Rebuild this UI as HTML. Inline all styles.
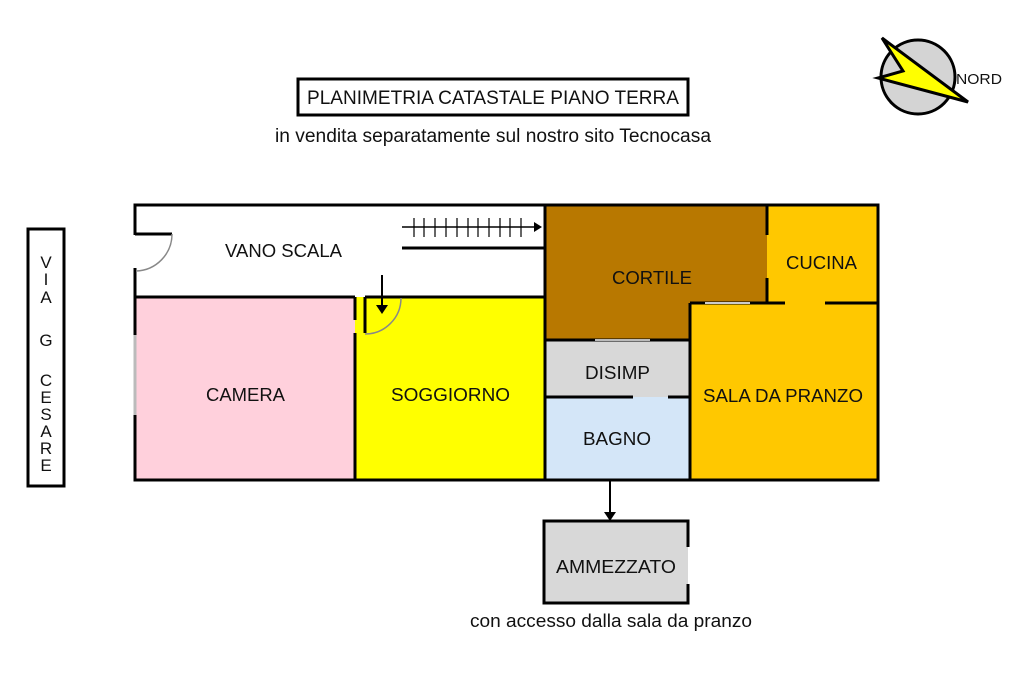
<!DOCTYPE html>
<html><head><meta charset="utf-8"><style>
html,body{margin:0;padding:0;background:#fff;}
svg{display:block}
text{font-family:"Liberation Sans",Arial,sans-serif;fill:#111}
</style></head><body>
<svg width="1024" height="682" viewBox="0 0 1024 682" xmlns="http://www.w3.org/2000/svg">
<!-- Title -->
<rect x="298" y="79" width="390" height="36" fill="#fff" stroke="#000" stroke-width="3"/>
<text x="493" y="104" font-size="19" text-anchor="middle" textLength="372" lengthAdjust="spacingAndGlyphs">PLANIMETRIA CATASTALE PIANO TERRA</text>
<text x="493" y="142" font-size="19" text-anchor="middle" textLength="436" lengthAdjust="spacingAndGlyphs">in vendita separatamente sul nostro sito Tecnocasa</text>

<!-- Compass -->
<circle cx="918" cy="77" r="37" fill="#d4d4d4" stroke="#000" stroke-width="3"/>
<polygon points="882,38 968,102 878,78 903,71" fill="#ffff00" stroke="#000" stroke-width="3" stroke-linejoin="miter"/>
<text x="956" y="84" font-size="15" fill="#222" textLength="46" lengthAdjust="spacingAndGlyphs">NORD</text>

<!-- Via G Cesare -->
<rect x="28" y="229" width="36" height="257" fill="#fff" stroke="#000" stroke-width="3"/>
<g font-size="17" text-anchor="middle">
<text x="46" y="268">V</text><text x="46" y="285">I</text><text x="46" y="303">A</text>
<text x="46" y="346">G</text>
<text x="46" y="386">C</text><text x="46" y="403">E</text><text x="46" y="420">S</text><text x="46" y="437">A</text><text x="46" y="454">R</text><text x="46" y="471">E</text>
</g>

<!-- Rooms fills -->
<rect x="135" y="205" width="410" height="92" fill="#fff"/>
<rect x="135" y="297" width="220" height="183" fill="#ffd0dc"/>
<rect x="355" y="297" width="190" height="183" fill="#ffff00"/>
<polygon points="545,205 767,205 767,303 690,303 690,340 545,340" fill="#b87800"/>
<rect x="767" y="205" width="111" height="98" fill="#ffc800"/>
<rect x="690" y="303" width="188" height="177" fill="#ffc800"/>
<rect x="545" y="340" width="145" height="57" fill="#d8d8d8"/>
<rect x="545" y="397" width="145" height="83" fill="#d4e6f8"/>

<!-- walls -->
<g stroke="#000" stroke-width="3" fill="none">
<rect x="135" y="205" width="743" height="275"/>
<line x1="135" y1="297" x2="355" y2="297"/>
<line x1="365" y1="297" x2="545" y2="297"/>
<line x1="355" y1="297" x2="355" y2="320"/>
<line x1="365" y1="297" x2="365" y2="333"/>
<line x1="355" y1="333" x2="355" y2="480"/>
<line x1="545" y1="205" x2="545" y2="480"/>
<line x1="767" y1="205" x2="767" y2="235"/>
<line x1="767" y1="278" x2="767" y2="303"/>
<line x1="690" y1="303" x2="785" y2="303"/>
<line x1="825" y1="303" x2="878" y2="303"/>
<line x1="690" y1="303" x2="690" y2="480"/>
<line x1="545" y1="340" x2="690" y2="340"/>
<line x1="545" y1="397" x2="633" y2="397"/>
<line x1="668" y1="397" x2="690" y2="397"/>
<line x1="402" y1="248" x2="545" y2="248"/>
</g>
<rect x="132" y="235" width="6" height="33" fill="#fff"/>
<line x1="135" y1="234" x2="172" y2="234" stroke="#000" stroke-width="3"/>
<path d="M172,234 A37,37 0 0 1 136,271" stroke="#888" stroke-width="1.5" fill="none"/>
<path d="M401,298 A36,36 0 0 1 365,334" stroke="#888" stroke-width="1.5" fill="none"/>
<line x1="135" y1="335" x2="135" y2="415" stroke="#bbb" stroke-width="3"/>
<line x1="595" y1="340" x2="650" y2="340" stroke="#bbb" stroke-width="2"/>
<line x1="705" y1="303" x2="750" y2="303" stroke="#ccc" stroke-width="2"/>
<!-- stairs -->
<line x1="402" y1="227" x2="536" y2="227" stroke="#000" stroke-width="1.5"/>
<polygon points="542,227 534,222 534,232" fill="#000"/>
<g stroke="#000" stroke-width="1.2">
<line x1="414" y1="218" x2="414" y2="237"/><line x1="424" y1="218" x2="424" y2="237"/><line x1="435" y1="218" x2="435" y2="237"/><line x1="446" y1="218" x2="446" y2="237"/><line x1="457" y1="218" x2="457" y2="237"/><line x1="468" y1="218" x2="468" y2="237"/><line x1="478" y1="218" x2="478" y2="237"/><line x1="489" y1="218" x2="489" y2="237"/><line x1="500" y1="218" x2="500" y2="237"/><line x1="510" y1="218" x2="510" y2="237"/><line x1="521" y1="218" x2="521" y2="237"/>
</g>
<line x1="382" y1="275" x2="382" y2="308" stroke="#000" stroke-width="2"/>
<polygon points="382,314 376,305 388,305" fill="#000"/>

<!-- labels -->
<g font-size="18" lengthAdjust="spacingAndGlyphs">
<text x="225" y="257" textLength="117" lengthAdjust="spacingAndGlyphs">VANO SCALA</text>
<text x="206" y="401" textLength="79" lengthAdjust="spacingAndGlyphs">CAMERA</text>
<text x="391" y="401" textLength="119" lengthAdjust="spacingAndGlyphs">SOGGIORNO</text>
<text x="612" y="284" textLength="80" lengthAdjust="spacingAndGlyphs">CORTILE</text>
<text x="786" y="269" textLength="71" lengthAdjust="spacingAndGlyphs">CUCINA</text>
<text x="585" y="379" textLength="65" lengthAdjust="spacingAndGlyphs">DISIMP</text>
<text x="583" y="445" textLength="68" lengthAdjust="spacingAndGlyphs">BAGNO</text>
<text x="703" y="402" textLength="160" lengthAdjust="spacingAndGlyphs">SALA DA PRANZO</text>
</g>

<!-- ammezzato -->
<line x1="610" y1="480" x2="610" y2="514" stroke="#000" stroke-width="2"/>
<polygon points="610,521 604,512 616,512" fill="#000"/>
<rect x="544" y="521" width="144" height="82" fill="#d8d8d8"/>
<g stroke="#000" stroke-width="3" fill="none">
<polyline points="688,547 688,521 544,521 544,603 688,603 688,584"/>
</g>
<text x="556" y="573" font-size="18" textLength="120" lengthAdjust="spacingAndGlyphs">AMMEZZATO</text>
<text x="611" y="627" font-size="18" text-anchor="middle" textLength="282" lengthAdjust="spacingAndGlyphs">con accesso dalla sala da pranzo</text>
</svg>
</body></html>
